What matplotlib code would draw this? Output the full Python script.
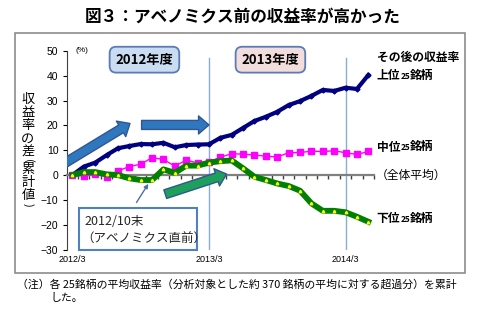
import matplotlib
matplotlib.use("Agg")
import matplotlib.pyplot as plt
from matplotlib.patches import FancyArrowPatch, Rectangle
from matplotlib.transforms import blended_transform_factory

plt.rcParams["font.family"] = ["Noto Sans CJK JP", "DejaVu Sans"]

# monthly cumulative excess return, 2012/3 .. 2014/5
months = list(range(27))
top25 = [0.0, 3.4, 5.0, 8.0, 10.8, 11.7, 12.5, 12.4, 13.0, 11.2, 12.1, 12.3, 12.4,
         15.0, 16.2, 19.0, 21.8, 23.5, 25.5, 28.2, 29.8, 31.9, 34.3, 33.9, 35.2, 34.7, 40.3]
mid25 = [0.0, -0.4, 0.3, -0.6, 1.7, 3.4, 4.4, 7.0, 6.3, 3.6, 6.0, 4.9, 5.3,
         7.2, 8.6, 8.4, 8.1, 7.6, 7.3, 9.0, 9.1, 9.6, 9.5, 9.8, 9.0, 8.3, 9.5]
low25 = [0.0, 1.2, 1.2, 0.3, 0.0, -1.3, -2.0, -2.0, 2.3, 0.9, 3.8, 3.8, 5.0,
         5.6, 5.9, 2.7, -0.7, -2.0, -3.4, -4.4, -6.3, -11.4, -14.4, -14.4, -15.0, -16.8, -18.8]

tick_pos = [0, 12, 24]
tick_labels = ["2012/3", "2013/3", "2014/3"]
yticks = [-30, -20, -10, 0, 10, 20, 30, 40, 50]
ylabel_chars = ["収", "益", "率", "の", "差", "(", "累", "計", "値", ")"]

W, H = 487, 321
fig = plt.figure(figsize=(W / 100, H / 100), dpi=100)


def px(x, y):
    return x / W, 1 - y / H


fig.text(*px(243, 17), "図３：アベノミクス前の収益率が高かった", ha="center", va="center",
         fontsize=12, fontweight="bold")
fig.patches.append(Rectangle(px(15, 273), 450 / W, 240 / H, transform=fig.transFigure,
                             fill=False, edgecolor="#8c8c8c", linewidth=1.2))

ax = fig.add_axes([66.7 / W, 1 - 249.5 / H, (374 - 66.7) / W, (249.5 - 51) / H])
ax.set_xlim(-0.5, 26.5)
ax.set_ylim(-30, 50)

for s in ("top", "right"):
    ax.spines[s].set_visible(False)
ax.spines["left"].set_color("#404040")
ax.spines["bottom"].set_position(("data", 0))
ax.spines["bottom"].set_color("#808080")
ax.spines["bottom"].set_linewidth(1.6)
ax.set_xticks([m + 0.5 for m in months])
ax.set_xticklabels([])
ax.tick_params(axis="x", direction="out", length=3, width=1, color="#404040")
ax.set_yticks(yticks)
ax.set_yticklabels([str(v).replace("-", "−") for v in yticks], fontfamily="Liberation Sans")
ax.tick_params(axis="y", direction="out", length=3, labelsize=7.5, pad=3)

trans = blended_transform_factory(ax.transData, ax.transAxes)
for p, lab in zip(tick_pos, tick_labels):
    ax.text(p, -0.03, lab, transform=trans, ha="center", va="top", fontsize=6.5,
            fontfamily="Liberation Sans")
ax.text(0.25, 50, "(%)", ha="left", va="center", fontsize=6, fontfamily="Liberation Sans")

# year separators
for p in tick_pos[1:]:
    ax.plot([p, p], [-30, 47], color="#8eaad6", linewidth=1, zorder=1)

ax.plot(months, top25, color="#000080", linewidth=3, marker="D", markersize=2.5, zorder=4)
ax.plot(months, mid25, color="#ff00ff", linewidth=1, marker="s", markersize=4.5, zorder=4)
ax.plot(months, low25, color="#008000", linewidth=4.2, marker="^", markersize=1.8,
        markerfacecolor="#ffff00", markeredgecolor="#ffff00", zorder=4)

# fiscal year boxes
for cx, lab, fc in [(6.33, "2012年度", "#c9dcf2"), (17.4, "2013年度", "#f3dcdc")]:
    ax.text(cx, 46.5, lab, ha="center", va="center", fontsize=9.5, fontweight="bold",
            bbox=dict(boxstyle="round,pad=0.45,rounding_size=0.5", fc=fc, ec="#5a7bb5", lw=1.3),
            zorder=5)


def block_arrow(a, b, fc, ec):
    arr = FancyArrowPatch(a, b, arrowstyle="simple,head_width=13,head_length=7.5,tail_width=6.5",
                          mutation_scale=1, shrinkA=0, shrinkB=0, fc=fc, ec=ec, lw=1, zorder=6)
    ax.add_patch(arr)


block_arrow((-0.72, 4.7), (5.06, 20.8), "#2f78bd", "#2f5597")
block_arrow((6.08, 20.2), (12.0, 20.2), "#2f78bd", "#2f5597")
block_arrow((8.16, -7.7), (13.55, 0.4), "#1fa05a", "#2f5597")

# callout for the pre-Abenomics point
ax.add_patch(Rectangle((0.61, -30.2), 10.3, 16.9, fc="white", ec="#4f81bd", lw=1.5,
                       zorder=5, clip_on=False))
ax.text(1.1, -18.9, "2012/10末", ha="left", va="center", fontsize=9, color="#262626", zorder=6)
ax.text(0.8, -26.0, "（アベノミクス直前）", ha="left", va="center", fontsize=9,
        color="#262626", zorder=6)
ax.annotate("", xy=(6.8, -2.6), xytext=(5.5, -12.0),
            arrowprops=dict(arrowstyle="-|>", color="#4f6f9f", lw=1, mutation_scale=6), zorder=6)


def series_label(y, big1, small, big2, weight="bold"):
    t = ax.text(26.75, y, big1, ha="left", va="center", fontsize=8.5, fontweight=weight,
                clip_on=False)
    t2 = ax.annotate(small, xy=(1, 0.12), xycoords=t, ha="left", va="bottom",
                     fontsize=6, fontweight=weight)
    ax.annotate(big2, xy=(1, -0.12), xycoords=t2, ha="left", va="bottom",
                fontsize=8.5, fontweight=weight)


ax.text(26.75, 47.3, "その後の収益率", ha="left", va="center", fontsize=8.5,
        fontweight="bold", clip_on=False)
series_label(40.0, "上位", "25", "銘柄")
series_label(11.3, "中位", "25", "銘柄")
series_label(-17.7, "下位", "25", "銘柄")
ax.text(26.65, 0, "（全体平均）", ha="left", va="center", fontsize=8.5, clip_on=False)

# vertical axis title, one character per row; brackets turned for vertical writing
y = 100
for i, ch in enumerate(ylabel_chars):
    if ch in "()":
        fig.text(*px(28, y), ch, ha="center", va="center", fontsize=8, rotation=-90)
    else:
        fig.text(*px(28, y), ch, ha="center", va="center", fontsize=9.5)
    nxt = ylabel_chars[i + 1] if i + 1 < len(ylabel_chars) else ""
    y += 9 if (ch in "()" or nxt in "()") else 13

fig.text(*px(17, 284), "（注）各 25銘柄の平均収益率（分析対象とした約 370 銘柄の平均に対する超過分）を累計",
         ha="left", va="center", fontsize=7.8)
fig.text(*px(50, 298), "した。", ha="left", va="center", fontsize=7.8)

fig.savefig("out.png", dpi=100)
